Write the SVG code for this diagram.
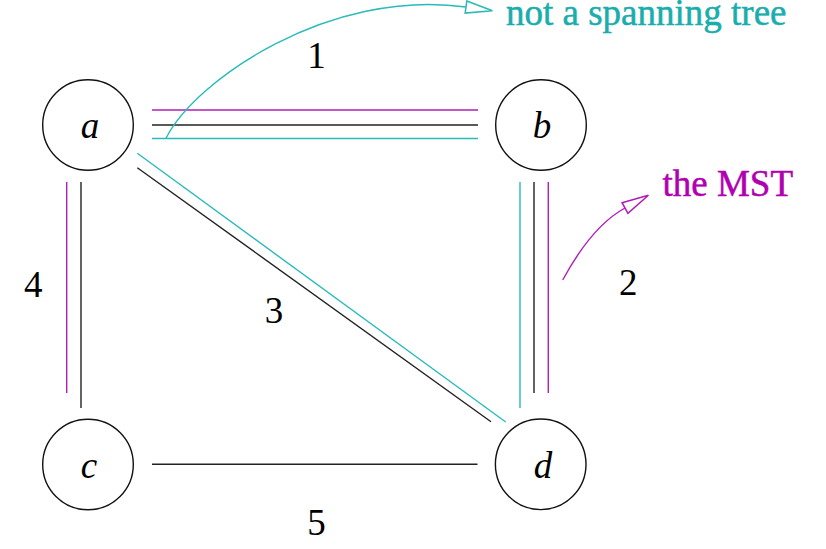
<svg xmlns="http://www.w3.org/2000/svg" width="826" height="549" viewBox="0 0 826 549">
<defs>
<style>
.node circle{fill:#fff;stroke:#111;stroke-width:1.4}
.lbl{font-family:"Liberation Serif","Times New Roman",serif;font-style:italic;font-size:37px;fill:#000;text-anchor:middle}
.w{font-family:"Liberation Serif","Times New Roman",serif;font-size:37px;fill:#000;text-anchor:middle}
.k{stroke:#222;stroke-width:1.4;fill:none}
.cy{stroke:#2ABABA;stroke-width:1.4;fill:none}
.mg{stroke:#B21CB8;stroke-width:1.4;fill:none}
.note{font-family:"Liberation Serif","Times New Roman",serif;font-size:37px;stroke-width:0.5}
</style>
<marker id="ahc" markerUnits="userSpaceOnUse" markerWidth="30" markerHeight="16" viewBox="-1 -7 27 14" refX="0" refY="0" orient="auto">
<path d="M0,-5.5 L24,0 L0,5.5 Z" fill="#fff" stroke="#2ABABA" stroke-width="1.4"/>
</marker>
<marker id="ahm" markerUnits="userSpaceOnUse" markerWidth="30" markerHeight="16" viewBox="-1 -7 27 14" refX="0" refY="0" orient="auto">
<path d="M0,-5.5 L24,0 L0,5.5 Z" fill="#fff" stroke="#B21CB8" stroke-width="1.4"/>
</marker>
</defs>
<rect width="826" height="549" fill="#fff"/>
<g id="connectors">
<!-- a-b -->
<line class="mg" x1="152" y1="110" x2="478" y2="110"/>
<line class="k" x1="152" y1="125" x2="478" y2="125"/>
<line class="cy" x1="152" y1="138.5" x2="478" y2="138.5"/>
<!-- a-c -->
<line class="mg" x1="66.7" y1="182" x2="66.7" y2="393"/>
<line class="k" x1="81" y1="182" x2="81" y2="408"/>
<!-- b-d -->
<line class="cy" x1="520" y1="182" x2="520" y2="408"/>
<line class="k" x1="534" y1="182" x2="534" y2="393"/>
<line class="mg" x1="548.3" y1="182" x2="548.3" y2="393"/>
<!-- a-d -->
<line class="cy" x1="137.3" y1="153.3" x2="505.7" y2="422"/>
<line class="k" x1="137.3" y1="167.7" x2="491" y2="421.7"/>
<!-- c-d -->
<line class="k" x1="152" y1="464.3" x2="477.5" y2="464.3"/>
<!-- annotation arrows -->
<path class="cy" d="M166,138.3 C195,80 330,-12 466,7" marker-end="url(#ahc)"/>
<path class="mg" d="M562.7,280 Q592,226 625,208" marker-end="url(#ahm)"/>
</g>
<g id="node-a" class="node"><circle cx="88" cy="125" r="45.3"/><text class="lbl" x="90" y="138">a</text></g>
<g id="node-b" class="node"><circle cx="541" cy="125" r="45.3"/><text class="lbl" x="542" y="138">b</text></g>
<g id="node-c" class="node"><circle cx="88" cy="464.5" r="45.3"/><text class="lbl" x="89" y="478">c</text></g>
<g id="node-d" class="node"><circle cx="540.7" cy="464.3" r="45.3"/><text class="lbl" x="543" y="478">d</text></g>
<g id="weights">
<text class="w" x="316.5" y="68">1</text>
<text class="w" x="628.3" y="295">2</text>
<text class="w" x="274" y="323">3</text>
<text class="w" x="33.3" y="297">4</text>
<text class="w" x="316.5" y="535">5</text>
</g>
<g id="notes">
<text class="note" x="506" y="25" fill="#1AADAD" stroke="#1AADAD">not a spanning tree</text>
<text class="note" x="662.5" y="196" fill="#B000B0" stroke="#B000B0">the MST</text>
</g>
</svg>
